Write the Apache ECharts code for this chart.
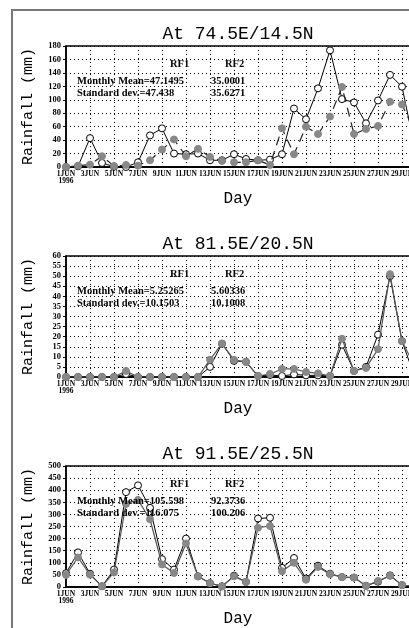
<!DOCTYPE html>
<html><head><meta charset="utf-8">
<script src="https://cdn.jsdelivr.net/npm/echarts@6/dist/echarts.min.js"></script>
<style>html,body{margin:0;padding:0;background:#fff}#c{width:409px;height:628px}</style>
</head><body><div id="c"></div>
<script>
const dayLabels = ['1JUN\n1996','2JUN','3JUN','4JUN','5JUN','6JUN','7JUN','8JUN','9JUN','10JUN',
  '11JUN','12JUN','13JUN','14JUN','15JUN','16JUN','17JUN','18JUN','19JUN','20JUN',
  '21JUN','22JUN','23JUN','24JUN','25JUN','26JUN','27JUN','28JUN','29JUN','30JUN','1JUL'];

const titles = ['At 74.5E/14.5N','At 81.5E/20.5N','At 91.5E/25.5N'];

// Panel 1: 74.5E/14.5N
const rf1_p1 = [0,1,43,6,0.5,0,7,47,57.5,20,19,20,10,10,19,12,10,11,19,87,71,117,173.5,101,96,65,99,137,119.5,34];
const rf2_p1 = [0,2,3.5,16,1.5,3,2,10,26,41,16,27,15,9,7,7,10,3,57.5,19,60,49,75,119,49,56.5,61,97,93,55];
// Panel 2: 81.5E/20.5N
const rf1_p2 = [0,0,0,0,0,1.5,0,0,0,0,0,0,5,16.5,8,7.5,0.5,1,0.5,1.3,0.8,0.8,0.5,16,3,5,21,50,17.8,1];
const rf2_p2 = [0,0,0,0,0,3,0,0,0,0,0,0,8.6,16.6,8.5,7.5,0.5,1.5,4,4,2.5,1.8,0.5,19,3,4.5,13.8,51,17.8,6];
// Panel 3: 91.5E/25.5N
const rf1_p3 = [57,143,55,3,72,392,420,327,115,72,200,44,16,3,47,21,283,286,79,120,35,88,55,41,39,5,22,48,8,3];
const rf2_p3 = [50,122,51,3,60,343,360,280,93,58,180,44,16,2,44,21,245,252,65,100,30,83,53,41,39,5,25,46,8,3];

const yMax = [180, 60, 500];
const yStep = [20, 5, 50];
const meanRF1 = ['47.1495','5.25265','105.598'];
const meanRF2 = ['35.0001','5.60336','92.3736'];
const sdRF1 = ['47.438','10.1503','116.075'];
const sdRF2 = ['35.6271','10.1008','100.206'];

const rf1 = [rf1_p1, rf1_p2, rf1_p3];
const rf2 = [rf2_p1, rf2_p2, rf2_p3];
const gridTops = [46, 256, 466];
const gridH = 121;

const chart = echarts.init(document.getElementById('c'), null, {renderer:'canvas'});
const mono = 'Liberation Mono';
const serif = 'Liberation Serif';

const grid = [], xAxis = [], yAxis = [], series = [], title = [], graphic = [];
graphic.push({type:'rect', shape:{x:12,y:10,width:520,height:700}, style:{fill:'none', stroke:'#777', lineWidth:2}, z:0, silent:true});

for (let i = 0; i < 3; i++) {
  const top = gridTops[i];
  grid.push({left:66, width:360, top:top, height:gridH, show:true, borderColor:'#000', borderWidth:1.5,
    backgroundColor:'transparent', containLabel:false, outerBoundsMode:'none'});
  xAxis.push({type:'category', gridIndex:i, data:dayLabels, boundaryGap:false,
    axisLine:{show:true, onZero:false, lineStyle:{color:'#000', width:2}},
    axisTick:{show:false},
    axisLabel:{interval:1, color:'#000', fontFamily:serif, fontWeight:'bold', fontSize:7.5, margin:3, lineHeight:7.5, hideOverlap:false},
    splitLine:{show:true, interval:1, lineStyle:{color:'#000', type:[1,3], width:1}}
  });
  yAxis.push({type:'value', gridIndex:i, min:0, max:yMax[i], interval:yStep[i],
    name:'Rainfall (mm)', nameLocation:'middle', nameGap:30,
    nameTextStyle:{fontFamily:mono, fontSize:15, color:'#000'},
    axisLine:{show:true, lineStyle:{color:'#000', width:1.5}},
    axisTick:{show:true, length:3, lineStyle:{color:'#000'}},
    axisLabel:{color:'#000', fontFamily:serif, fontWeight:'bold', fontSize:8.5, margin:5},
    splitLine:{show:true, lineStyle:{color:'#000', type:[1,3], width:1}}
  });
  series.push({type:'line', xAxisIndex:i, yAxisIndex:i, data:rf1[i], symbol:'circle', symbolSize:7,
    lineStyle:{color:'#000', width:1}, itemStyle:{color:'#fff', borderColor:'#000', borderWidth:1}, z:3});
  series.push({type:'line', xAxisIndex:i, yAxisIndex:i, data:rf2[i], symbol:'circle', symbolSize:7,
    lineStyle:{color: i===0 ? '#222' : '#555', width:1.2, type: i===0 ? [9,6] : 'solid'},
    itemStyle:{color:'#888', borderColor:'#888', borderWidth:1}, z:4});
  title.push({text:titles[i], left:233, top:top-26, textAlign:'center',
    textStyle:{fontFamily:mono, fontSize:18, fontWeight:'normal', color:'#000'}});
  title.push({text:'Day', left:233, top:top+140, textAlign:'center',
    textStyle:{fontFamily:mono, fontSize:16, fontWeight:'normal', color:'#000'}});
  const off = top - 46;
  const ts = {fontFamily:serif, fontWeight:'bold', fontSize:10.5, fill:'#000'};
  graphic.push({type:'text', left:170, top:off+59, style:Object.assign({text:'RF1'}, ts), z:10});
  graphic.push({type:'text', left:225, top:off+59, style:Object.assign({text:'RF2'}, ts), z:10});
  graphic.push({type:'text', left:77, top:off+76, style:Object.assign({text:'Monthly Mean=' + meanRF1[i]}, ts), z:10});
  graphic.push({type:'text', left:211, top:off+76, style:Object.assign({text:meanRF2[i]}, ts), z:10});
  graphic.push({type:'text', left:77, top:off+88, style:Object.assign({text:'Standard dev.=' + sdRF1[i]}, ts), z:10});
  graphic.push({type:'text', left:211, top:off+88, style:Object.assign({text:sdRF2[i]}, ts), z:10});
}

chart.setOption({animation:false, backgroundColor:'#fff', title, grid, xAxis, yAxis, series, graphic});
</script></body></html>
